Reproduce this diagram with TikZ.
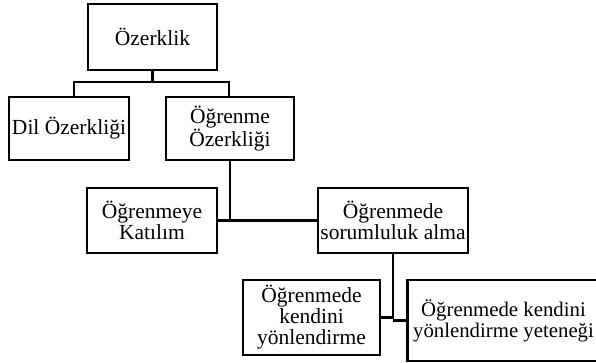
\documentclass[tikz,border=0pt]{standalone}
\usepackage{fontspec}
\setmainfont{Liberation Serif}
\usetikzlibrary{positioning, calc}

\begin{document}
\begin{tikzpicture}[
  x=1pt, y=-1pt,
  box/.style={draw=black, line width=2.6pt, fill=white, align=center,
    inner sep=2pt, font=\fontsize{21.5}{21}\selectfont},
  conn/.style={line width=2.6pt, black},
]

% Canvas
\useasboundingbox (0,0) rectangle (596,363);

% === Level 1 ===
\node[box, minimum width=129pt, minimum height=66pt] (ozer) at (152.5,37)
  {Özerklik};

% === Level 2 ===
\node[box, minimum width=120pt, minimum height=63pt] (dil) at (69,128.5)
  {Dil Özerkliği};
\node[box, minimum width=128pt, minimum height=63pt] (ogren) at (230,128.5)
  {Öğrenme\\Özerkliği};

% Tree: Özerklik -> children
\coordinate (j1) at (152.5,82);
\draw[conn] (ozer.south) -- (j1);
\draw[conn] (j1) -| ([xshift=5pt]dil.north);
\draw[conn] (j1) -| ([xshift=-1pt]ogren.north);

% === Level 3 ===
\node[box, minimum width=130pt, minimum height=65pt] (katil) at (152,220.5)
  {Öğrenmeye\\Katılım};
\node[box, minimum width=150pt, minimum height=65pt] (sorum) at (393,220.5)
  {Öğrenmede\\sorumluluk alma};

% Tree: Öğrenme Özerkliği -> children
\draw[conn] (katil.east) -- (sorum.west);
\draw[conn] (ogren.south) -- (ogren.south |- katil.east);

% === Level 4 ===
\node[box, minimum width=137pt, minimum height=75pt] (yonl) at (311.5,317.5)
  {Öğrenmede\\kendini\\yönlendirme};
\node[box, minimum width=192pt, minimum height=81pt,
  font=\fontsize{20.8}{21}\selectfont] (yetenek) at (503.5,320.5)
  {Öğrenmede kendini\\yönlendirme yeteneği};

% Tree: sorumluluk -> children
\draw[conn] (yonl.east) -| (sorum.south);
\draw[conn] (sorum.south |- yetenek.west) -- (yetenek.west);

\end{tikzpicture}
\end{document}
